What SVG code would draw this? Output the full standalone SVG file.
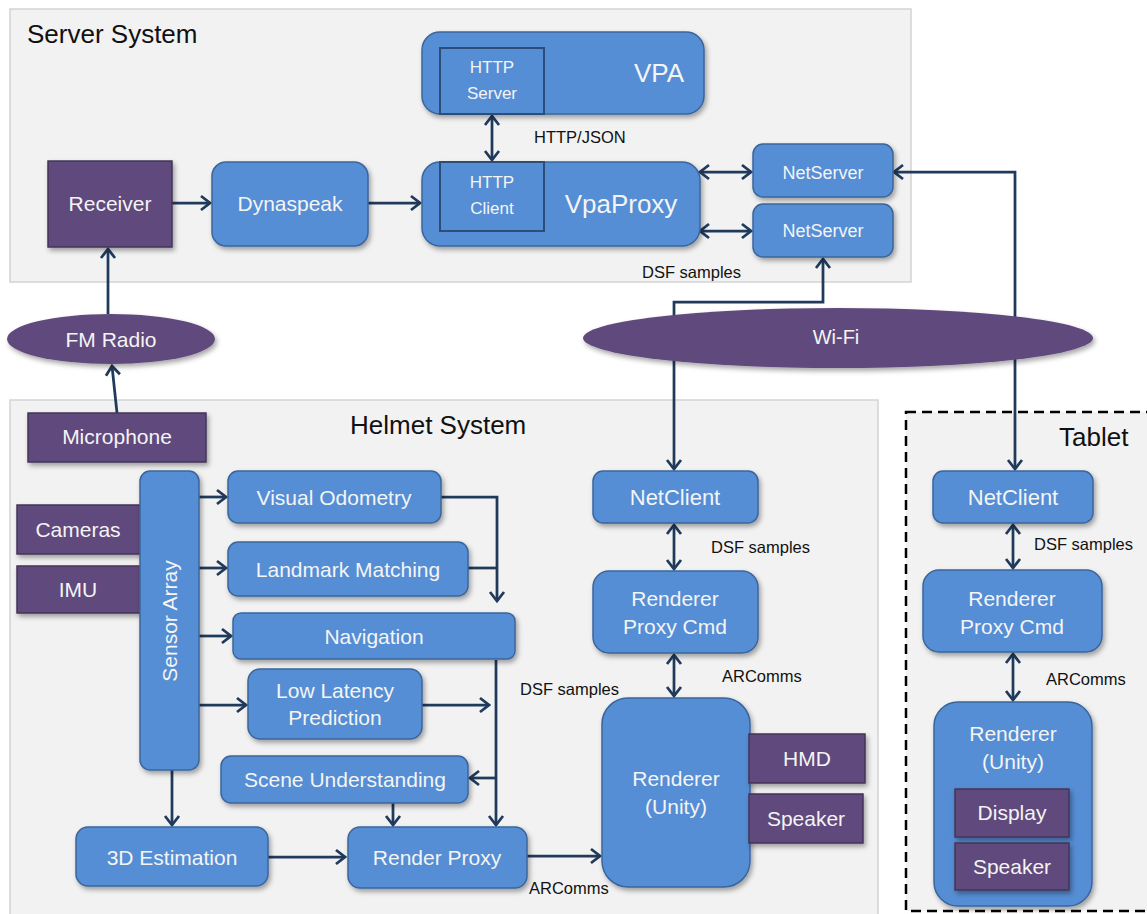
<svg xmlns="http://www.w3.org/2000/svg" width="1147" height="914" viewBox="0 0 1147 914">
  <style>
    .panel { fill: #f2f2f2; stroke: #d3d3d3; stroke-width: 1.5; }
    .tablet { fill: #f2f2f2; stroke: #000; stroke-width: 2.5; stroke-dasharray: 10 6; }
    .title { font-family: "Liberation Sans", Arial, sans-serif; font-size: 26px; fill: #111; }
    .blue { fill: #558ed5; stroke: #3a659a; stroke-width: 1.5; filter: url(#sh); }
    .inner { fill: #558ed5; stroke: #2c4d75; stroke-width: 2; }
    .purple { fill: #604a7b; stroke: #45355a; stroke-width: 1.5; filter: url(#sh); }
    .t { font-family: "Liberation Sans", Arial, sans-serif; font-size: 21px; fill: #f4f4f4; text-anchor: middle; }
    .ts { font-family: "Liberation Sans", Arial, sans-serif; font-size: 17px; fill: #f4f4f4; text-anchor: middle; }
    .lbl { font-family: "Liberation Sans", Arial, sans-serif; font-size: 16.5px; fill: #111; }
    .c { fill: none; stroke: #203a5c; stroke-width: 2.75; }
  </style>
  <defs>
    <filter id="sh" x="-15%" y="-15%" width="135%" height="145%">
      <feDropShadow dx="2" dy="3" stdDeviation="2.5" flood-color="#000" flood-opacity="0.35"/>
    </filter>
    <marker id="ah" viewBox="-12 -9 14 18" markerWidth="14" markerHeight="18" markerUnits="userSpaceOnUse" refX="0" refY="0" orient="auto-start-reverse">
      <path d="M-9,-7 L0,0 L-9,7" fill="none" stroke="#203a5c" stroke-width="2.75"/>
    </marker>
  </defs>

  <!-- system panels -->
  <g id="server-system">
    <rect class="panel" x="10" y="9" width="901" height="273"/>
    <text class="title" x="27" y="43">Server System</text>
  </g>
  <g id="helmet-system">
    <rect class="panel" x="10" y="400" width="868" height="530"/>
    <text class="title" x="350" y="434">Helmet System</text>
  </g>
  <g id="tablet">
    <rect class="tablet" x="906" y="412" width="262" height="499"/>
    <text class="title" x="1059" y="446">Tablet</text>
  </g>

  <!-- connectors -->
  <g id="connectors">
    <path class="c" d="M108,314 V249" marker-end="url(#ah)"/>
    <path class="c" d="M117,413 L112,366" marker-end="url(#ah)"/>
    <path class="c" d="M172,203 H210" marker-end="url(#ah)"/>
    <path class="c" d="M368,203 H420" marker-end="url(#ah)"/>
    <path class="c" d="M492,116 V160" marker-start="url(#ah)" marker-end="url(#ah)"/>
    <path class="c" d="M700,172 H751" marker-start="url(#ah)" marker-end="url(#ah)"/>
    <path class="c" d="M700,231 H751" marker-start="url(#ah)" marker-end="url(#ah)"/>
    <path class="c" d="M674,340 V302 H823 V259" marker-end="url(#ah)"/>
    <path class="c" d="M674,340 V469" marker-end="url(#ah)"/>
    <path class="c" d="M894,172 H1015 V469" marker-start="url(#ah)" marker-end="url(#ah)"/>
    <path class="c" d="M199,497 H226" marker-end="url(#ah)"/>
    <path class="c" d="M199,568 H226" marker-end="url(#ah)"/>
    <path class="c" d="M199,636 H231" marker-end="url(#ah)"/>
    <path class="c" d="M199,705 H246" marker-end="url(#ah)"/>
    <path class="c" d="M441,497 H497 V601" marker-end="url(#ah)"/>
    <path class="c" d="M468,568 H497"/>
    <path class="c" d="M496,660 V825" marker-end="url(#ah)"/>
    <path class="c" d="M422,705 H489" marker-end="url(#ah)"/>
    <path class="c" d="M496,778 H470" marker-end="url(#ah)"/>
    <path class="c" d="M393,803 V825" marker-end="url(#ah)"/>
    <path class="c" d="M172,770 V825" marker-end="url(#ah)"/>
    <path class="c" d="M268,857 H345" marker-end="url(#ah)"/>
    <path class="c" d="M527,856 H600" marker-end="url(#ah)"/>
    <path class="c" d="M674,525 V569" marker-start="url(#ah)" marker-end="url(#ah)"/>
    <path class="c" d="M674,655 V696" marker-start="url(#ah)" marker-end="url(#ah)"/>
    <path class="c" d="M1013,525 V568" marker-start="url(#ah)" marker-end="url(#ah)"/>
    <path class="c" d="M1013,654 V700" marker-start="url(#ah)" marker-end="url(#ah)"/>
  </g>

  <!-- connector labels -->
  <g id="labels">
    <text class="lbl" x="534" y="143">HTTP/JSON</text>
    <text class="lbl" x="642" y="278">DSF samples</text>
    <text class="lbl" x="711" y="553">DSF samples</text>
    <text class="lbl" x="722" y="682">ARComms</text>
    <text class="lbl" x="520" y="695">DSF samples</text>
    <text class="lbl" x="529" y="894">ARComms</text>
    <text class="lbl" x="1034" y="550">DSF samples</text>
    <text class="lbl" x="1046" y="685">ARComms</text>
  </g>

  <!-- server nodes -->
  <g id="receiver">
    <rect class="purple" x="48" y="161" width="124" height="86"/>
    <text class="t" x="110" y="211">Receiver</text>
  </g>
  <g id="dynaspeak">
    <rect class="blue" x="212" y="162" width="156" height="84" rx="14"/>
    <text class="t" x="290" y="211">Dynaspeak</text>
  </g>
  <g id="vpa">
    <rect class="blue" x="422" y="32" width="282" height="82" rx="18"/>
    <rect class="inner" x="440" y="48" width="104" height="66"/>
    <text class="ts" x="492" y="73">HTTP</text>
    <text class="ts" x="492" y="99">Server</text>
    <text class="t" x="659" y="82" style="font-size:26px">VPA</text>
  </g>
  <g id="vpaproxy">
    <rect class="blue" x="422" y="162" width="278" height="84" rx="18"/>
    <rect class="inner" x="440" y="162" width="104" height="69"/>
    <text class="ts" x="492" y="188">HTTP</text>
    <text class="ts" x="492" y="214">Client</text>
    <text class="t" x="621" y="213" style="font-size:26px">VpaProxy</text>
  </g>
  <g id="netserver-1">
    <rect class="blue" x="753" y="144" width="140" height="53" rx="10"/>
    <text class="t" x="823" y="179" style="font-size:18px">NetServer</text>
  </g>
  <g id="netserver-2">
    <rect class="blue" x="753" y="204" width="140" height="53" rx="10"/>
    <text class="t" x="823" y="237" style="font-size:18px">NetServer</text>
  </g>

  <!-- radio links -->
  <g id="fm-radio">
    <ellipse cx="111" cy="339" rx="104" ry="25" fill="#604a7b" filter="url(#sh)"/>
    <text class="t" x="111" y="347">FM Radio</text>
  </g>
  <g id="wifi">
    <ellipse cx="838" cy="338" rx="255" ry="30" fill="#604a7b" filter="url(#sh)"/>
    <text class="t" x="836" y="344" style="font-size:20px">Wi-Fi</text>
  </g>

  <!-- helmet nodes -->
  <g id="microphone">
    <rect class="purple" x="28" y="413" width="178" height="49"/>
    <text class="t" x="117" y="444">Microphone</text>
  </g>
  <g id="cameras">
    <rect class="purple" x="17" y="505" width="124" height="49"/>
    <text class="t" x="78" y="537">Cameras</text>
  </g>
  <g id="imu">
    <rect class="purple" x="17" y="566" width="124" height="47"/>
    <text class="t" x="78" y="597">IMU</text>
  </g>
  <g id="sensor-array">
    <rect class="blue" x="140" y="471" width="59" height="299" rx="10"/>
    <text class="t" transform="translate(177,621) rotate(-90)" x="0" y="0">Sensor Array</text>
  </g>
  <g id="visual-odometry">
    <rect class="blue" x="228" y="471" width="213" height="52" rx="10"/>
    <text class="t" x="334" y="505">Visual Odometry</text>
  </g>
  <g id="landmark-matching">
    <rect class="blue" x="228" y="542" width="240" height="54" rx="10"/>
    <text class="t" x="348" y="577">Landmark Matching</text>
  </g>
  <g id="navigation">
    <rect class="blue" x="233" y="613" width="282" height="46" rx="8"/>
    <text class="t" x="374" y="644">Navigation</text>
  </g>
  <g id="low-latency-prediction">
    <rect class="blue" x="248" y="669" width="174" height="70" rx="12"/>
    <text class="t" x="335" y="698">Low Latency</text>
    <text class="t" x="335" y="725">Prediction</text>
  </g>
  <g id="scene-understanding">
    <rect class="blue" x="221" y="756" width="247" height="47" rx="10"/>
    <text class="t" x="345" y="787">Scene Understanding</text>
  </g>
  <g id="estimation-3d">
    <rect class="blue" x="76" y="827" width="192" height="59" rx="12"/>
    <text class="t" x="172" y="865">3D Estimation</text>
  </g>
  <g id="render-proxy">
    <rect class="blue" x="348" y="827" width="179" height="61" rx="12"/>
    <text class="t" x="437" y="865">Render Proxy</text>
  </g>
  <g id="helmet-netclient">
    <rect class="blue" x="593" y="471" width="165" height="52" rx="10"/>
    <text class="t" x="675" y="505" style="font-size:22px">NetClient</text>
  </g>
  <g id="helmet-renderer-proxy-cmd">
    <rect class="blue" x="593" y="571" width="165" height="82" rx="16"/>
    <text class="t" x="675" y="606">Renderer</text>
    <text class="t" x="675" y="634">Proxy Cmd</text>
  </g>
  <g id="helmet-renderer-unity">
    <rect class="blue" x="602" y="698" width="148" height="189" rx="26"/>
    <text class="t" x="676" y="786">Renderer</text>
    <text class="t" x="676" y="814">(Unity)</text>
  </g>
  <g id="hmd">
    <rect class="purple" x="749" y="734" width="116" height="49"/>
    <text class="t" x="807" y="766">HMD</text>
  </g>
  <g id="helmet-speaker">
    <rect class="purple" x="749" y="794" width="114" height="49"/>
    <text class="t" x="806" y="826">Speaker</text>
  </g>

  <!-- tablet nodes -->
  <g id="tablet-netclient">
    <rect class="blue" x="933" y="471" width="160" height="52" rx="10"/>
    <text class="t" x="1013" y="505" style="font-size:22px">NetClient</text>
  </g>
  <g id="tablet-renderer-proxy-cmd">
    <rect class="blue" x="923" y="570" width="179" height="82" rx="16"/>
    <text class="t" x="1012" y="606">Renderer</text>
    <text class="t" x="1012" y="634">Proxy Cmd</text>
  </g>
  <g id="tablet-renderer-unity">
    <rect class="blue" x="934" y="702" width="158" height="204" rx="24"/>
    <text class="t" x="1013" y="741">Renderer</text>
    <text class="t" x="1013" y="769">(Unity)</text>
  </g>
  <g id="display">
    <rect class="purple" x="955" y="789" width="114" height="48"/>
    <text class="t" x="1012" y="820">Display</text>
  </g>
  <g id="tablet-speaker">
    <rect class="purple" x="955" y="843" width="114" height="47"/>
    <text class="t" x="1012" y="874">Speaker</text>
  </g>
</svg>
